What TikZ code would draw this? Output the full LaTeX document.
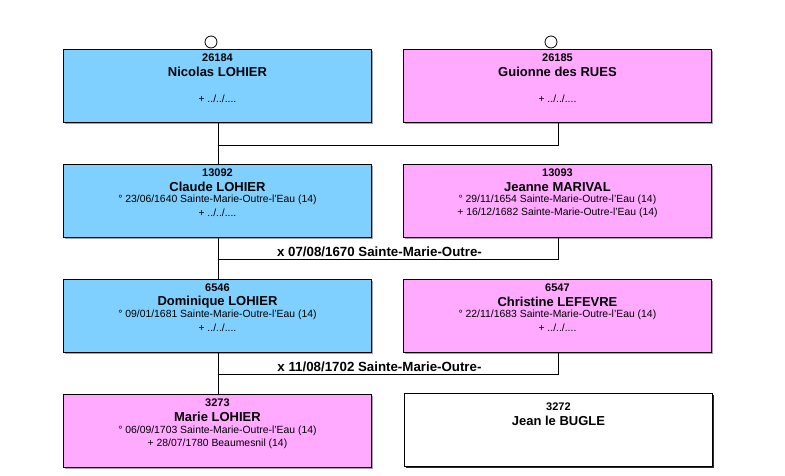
\documentclass[tikz,border=0pt]{standalone}
\usepackage{fontspec}
\setmainfont{Liberation Sans}
\usetikzlibrary{shadows}
\definecolor{maleblue}{RGB}{128,208,255}
\definecolor{femalepink}{RGB}{255,170,255}
\definecolor{shadowred}{RGB}{120,10,20}
\tikzset{
  x=1pt, y=-1pt,
  person/.style={draw=black, line width=0.9pt, minimum width=308pt, minimum height=73pt,
    anchor=north west, inner sep=0pt,
    drop shadow={shadow xshift=2pt, shadow yshift=-2pt, fill=black, opacity=0.35}},
  male/.style={person, fill=maleblue},
  female/.style={person, fill=femalepink},
  unknown/.style={draw=black, line width=0.9pt, minimum width=308pt, minimum height=73pt,
    anchor=north west, inner sep=0pt, fill=white,
    drop shadow={shadow xshift=1.5pt, shadow yshift=-1.5pt, fill=shadowred, opacity=1}},
  numtxt/.style={font=\fontsize{11}{12}\selectfont\bfseries, inner sep=0pt},
  nametxt/.style={font=\fontsize{13}{15}\selectfont\bfseries, inner sep=0pt},
  datetxt/.style={font=\fontsize{10.4}{12}\selectfont, inner sep=0pt},
  marrtxt/.style={font=\fontsize{13.3}{15}\selectfont\bfseries, inner sep=0pt},
  link/.style={draw=black, line width=1pt},
  rootmark/.style={draw=black, line width=0.8pt, fill=white, circle, minimum size=12pt, inner sep=0pt}
}
\begin{document}
\begin{tikzpicture}
\useasboundingbox (0,0) rectangle (785,475);
% row 1
\node[male]   (b1) at (63,49) {};
\node[female] (r1) at (403,49) {};
\node[rootmark] (c1) at (211,42) {};
\node[rootmark] (c2) at (551,42) {};
\node[numtxt]  (b1n) at ([yshift=-9pt]b1.north) {26184};
\node[nametxt] (b1m) at ([yshift=-23pt]b1.north) {Nicolas LOHIER};
\node[datetxt] (b1d) at ([yshift=-50pt]b1.north) {+ ../../....};
\node[numtxt]  (r1n) at ([yshift=-9pt]r1.north) {26185};
\node[nametxt] (r1m) at ([yshift=-23pt]r1.north) {Guionne des RUES};
\node[datetxt] (r1d) at ([yshift=-50pt]r1.north) {+ ../../....};
% row 2
\node[male]   (b2) at (63,164) {};
\node[female] (r2) at (403,164) {};
\node[numtxt]  (b2n) at ([yshift=-9pt]b2.north) {13092};
\node[nametxt] (b2m) at ([yshift=-23pt]b2.north) {Claude LOHIER};
\node[datetxt] (b2d) at ([yshift=-36pt]b2.north) {° 23/06/1640 Sainte-Marie-Outre-l'Eau (14)};
\node[datetxt] (b2e) at ([yshift=-49pt]b2.north) {+ ../../....};
\node[numtxt]  (r2n) at ([yshift=-9pt]r2.north) {13093};
\node[nametxt] (r2m) at ([yshift=-23pt]r2.north) {Jeanne MARIVAL};
\node[datetxt] (r2d) at ([yshift=-36pt]r2.north) {° 29/11/1654 Sainte-Marie-Outre-l'Eau (14)};
\node[datetxt] (r2e) at ([yshift=-49pt]r2.north) {+ 16/12/1682 Sainte-Marie-Outre-l'Eau (14)};
% row 3
\node[male]   (b3) at (63,279) {};
\node[female] (r3) at (403,279) {};
\node[numtxt]  (b3n) at ([yshift=-9pt]b3.north) {6546};
\node[nametxt] (b3m) at ([yshift=-23pt]b3.north) {Dominique LOHIER};
\node[datetxt] (b3d) at ([yshift=-36pt]b3.north) {° 09/01/1681 Sainte-Marie-Outre-l'Eau (14)};
\node[datetxt] (b3e) at ([yshift=-49pt]b3.north) {+ ../../....};
\node[numtxt]  (r3n) at ([yshift=-9pt]r3.north) {6547};
\node[nametxt] (r3m) at ([yshift=-23pt]r3.north) {Christine LEFEVRE};
\node[datetxt] (r3d) at ([yshift=-36pt]r3.north) {° 22/11/1683 Sainte-Marie-Outre-l'Eau (14)};
\node[datetxt] (r3e) at ([yshift=-49pt]r3.north) {+ ../../....};
% row 4
\node[female]  (b4) at (63,394) {};
\node[unknown] (r4) at (404,393) {};
\node[numtxt]  (b4n) at ([yshift=-9pt]b4.north) {3273};
\node[nametxt] (b4m) at ([yshift=-23pt]b4.north) {Marie LOHIER};
\node[datetxt] (b4d) at ([yshift=-37pt]b4.north) {° 06/09/1703 Sainte-Marie-Outre-l'Eau (14)};
\node[datetxt] (b4e) at ([yshift=-50pt]b4.north) {+ 28/07/1780 Beaumesnil (14)};
\node[numtxt]  (r4n) at ([yshift=-14pt]r4.north) {3272};
\node[nametxt] (r4m) at ([yshift=-28pt]r4.north) {Jean le BUGLE};
% connectors
\coordinate (m1) at (218,145);
\coordinate (m2) at (218,259);
\coordinate (m3) at (218,374);
\draw[link] ([xshift=1pt]b1.south) -- ([xshift=1pt]b2.north);
\draw[link] ([xshift=1pt]r1.south) |- (m1);
\draw[link] ([xshift=1pt]b2.south) -- ([xshift=1pt]b3.north);
\draw[link] ([xshift=1pt]r2.south) |- (m2);
\draw[link] ([xshift=1pt]b3.south) -- ([xshift=1pt]b4.north);
\draw[link] ([xshift=1pt]r3.south) |- (m3);
\node[marrtxt] (x1) at (379.5,252) {x 07/08/1670 Sainte-Marie-Outre-};
\node[marrtxt] (x2) at (379.5,367) {x 11/08/1702 Sainte-Marie-Outre-};
\end{tikzpicture}
\end{document}
